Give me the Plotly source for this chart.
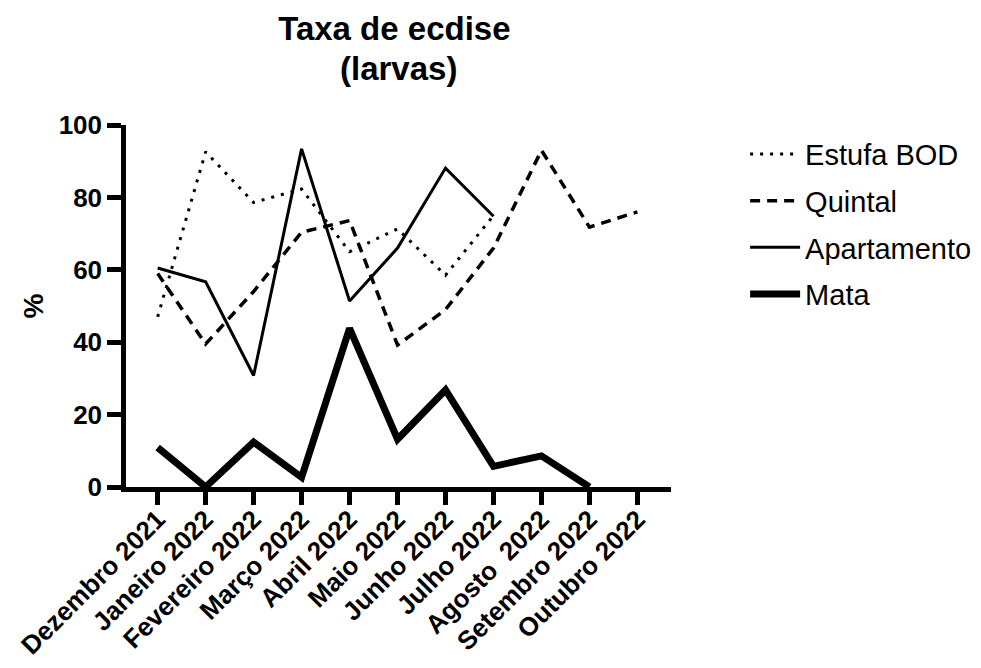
import plotly.graph_objects as go

months = ["Dezembro 2021", "Janeiro 2022", "Fevereiro 2022", "Março 2022", "Abril 2022",
          "Maio 2022", "Junho 2022", "Julho 2022", "Agosto\u00a0 2022", "Setembro 2022",
          "Outubro 2022"]

estufa_bod = [47.0, 92.6, 78.6, 82.3, 65.0, 71.3, 58.5, 75.0, None, None, None]
quintal = [59.0, 39.5, 54.0, 70.4, 73.6, 39.2, 49.0, 66.0, 93.0, 71.8, 76.0]
apartamento = [60.5, 56.7, 30.8, 93.4, 51.4, 66.0, 88.1, 74.8, None, None, None]
mata = [10.9, 0.0, 12.4, 2.7, 43.8, 13.2, 26.8, 5.7, 8.6, 0.0, None]

series_names = ["Estufa BOD", "Quintal", "Apartamento", "Mata"]
title_lines = ["Taxa de ecdise", "(larvas)"]

FONT = "Liberation Sans, Arial, sans-serif"

fig = go.Figure()
styles = [
    dict(width=3, dash="3px,7px"),
    dict(width=3.5, dash="10px,7px"),
    dict(width=3, dash="solid"),
    dict(width=7, dash="solid"),
]
for name, vals, st in zip(series_names, [estufa_bod, quintal, apartamento, mata], styles):
    fig.add_trace(go.Scatter(
        x=months, y=vals, mode="lines", name=name, legendgroup=name,
        line=dict(color="black", width=st["width"], dash=st["dash"]),
        connectgaps=False,
    ))

fig.update_layout(
    width=981, height=668,
    paper_bgcolor="white", plot_bgcolor="white",
    margin=dict(l=126, r=310, t=125, b=181, autoexpand=False),
    font=dict(family=FONT, color="black"),
    title=dict(text="<b>%s</b>" % title_lines[0], x=0.402, xanchor="center",
               yref="container", y=1 - 28.0 / 668, yanchor="middle",
               font=dict(size=33, family=FONT, color="black")),
    showlegend=True,
    legend=dict(x=1.136, y=0.99, xanchor="left", yanchor="top",
                font=dict(size=29, family=FONT, color="black"),
                itemwidth=50, tracegroupgap=6, bgcolor="rgba(0,0,0,0)"),
)
fig.add_annotation(
    text="<b>%s</b>" % title_lines[1], xref="paper", yref="paper",
    x=0.5, y=(487 - 68.0) / 362, xanchor="center", yanchor="middle",
    showarrow=False, font=dict(size=33, family=FONT, color="black"),
)
fig.update_xaxes(
    type="category", range=[-0.66, 10.7], automargin=False,
    showline=True, linecolor="black", linewidth=4.5,
    ticks="outside", ticklen=13, tickwidth=4.5, tickcolor="black",
    tickangle=-45, ticklabelstandoff=-11,
    tickfont=dict(size=26, family=FONT, color="black", weight="bold"),
    showgrid=False, zeroline=False,
)
fig.update_yaxes(
    range=[0, 100], tickvals=[0, 20, 40, 60, 80, 100], automargin=False,
    showline=True, linecolor="black", linewidth=4.5,
    ticks="outside", ticklen=14, tickwidth=4.5, tickcolor="black",
    tickfont=dict(size=26, family=FONT, color="black", weight="bold"),
    title=dict(text="<b>%</b>", font=dict(size=28, family=FONT, color="black"), standoff=8),
    showgrid=False, zeroline=False,
)

fig.write_html("out.html", config={"displayModeBar": False},
               post_script="document.body.style.margin='0';document.body.style.overflow='hidden';")
